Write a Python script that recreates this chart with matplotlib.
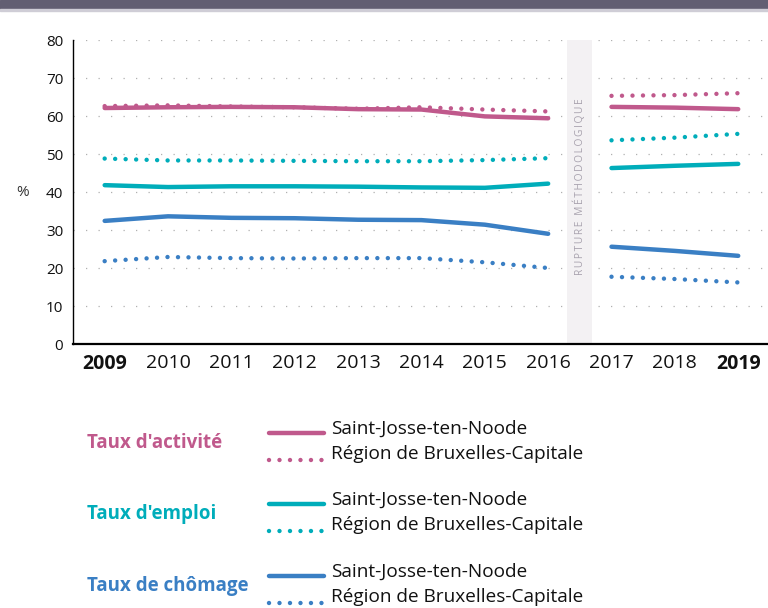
import numpy as np
import matplotlib.pyplot as plt
from matplotlib.patches import Rectangle

plt.rcParams['font.family'] = ['Open Sans', 'DejaVu Sans']

# Data
years = [2009, 2010, 2011, 2012, 2013, 2014, 2015, 2016, 2017, 2018, 2019]
bold_years = [2009, 2019]

act_sj = [62.1, 62.3, 62.4, 62.3, 61.8, 61.7, 59.9, 59.4, 62.4, 62.2, 61.8]
act_rbc = [62.6, 62.8, 62.5, 62.3, 61.9, 62.3, 61.7, 61.2, 65.3, 65.5, 66.0]
emp_sj = [41.8, 41.3, 41.5, 41.5, 41.4, 41.2, 41.1, 42.2, 46.3, 46.9, 47.4]
emp_rbc = [48.8, 48.3, 48.3, 48.2, 48.1, 48.1, 48.4, 48.9, 53.6, 54.3, 55.3]
cho_sj = [32.4, 33.6, 33.2, 33.1, 32.7, 32.6, 31.4, 29.0, 25.6, 24.5, 23.2]
cho_rbc = [21.8, 22.9, 22.6, 22.5, 22.6, 22.6, 21.5, 20.0, 17.7, 17.1, 16.2]

groups = ["Taux d'activité", "Taux d'emploi", "Taux de chômage"]
series_names = ["Saint-Josse-ten-Noode", "Région de Bruxelles-Capitale"]
colors = ['#c0598c', '#00adba', '#3a7fc4']
break_label = "RUPTURE MÉTHODOLOGIQUE"

# Layout
W, H = 768, 608
fig = plt.figure(figsize=(W / 100, H / 100), dpi=100)
ax = fig.add_axes([73 / W, 1 - 344 / H, 1 - 73 / W, (344 - 40) / H])

x = np.arange(len(years))
split = years.index(2017)
dotted = (0, (0.001, 2.36))

series = [(act_sj, act_rbc), (emp_sj, emp_rbc), (cho_sj, cho_rbc)]
for (sj, rbc), c in zip(series, colors):
    for sl in (slice(0, split), slice(split, None)):
        ax.plot(x[sl], np.array(sj)[sl], color=c, lw=3.2,
                solid_capstyle='round', zorder=4)
        ax.plot(x[sl], np.array(rbc)[sl], color=c, lw=3.2, ls=dotted,
                dash_capstyle='round', zorder=4)

# rupture band
ax.axvspan(split - 0.7, split - 0.31, color='#f3f1f3', zorder=2, lw=0)
ax.text(split - 0.505, 41.5, "\u2009".join(break_label), rotation=90,
        ha='center', va='center', fontsize=7.3, color='#a8a2ae', zorder=3)

ax.set_xlim(-0.5, 10.47)
ax.set_ylim(0, 80)
ax.set_yticks(range(0, 81, 10))
for v in range(10, 81, 10):
    ax.axhline(v, color='#b0b0b0', lw=0.9, ls=(0, (1, 9)), zorder=1)

ax.set_xticks(x)
ax.set_xticklabels([str(y) for y in years], fontsize=14)
for lab, y in zip(ax.get_xticklabels(), years):
    if y in bold_years:
        lab.set_fontweight('bold')
ax.tick_params(axis='x', length=0, pad=7, colors='#111111')
ax.tick_params(axis='y', length=0, pad=7, labelsize=11, colors='#111111')
for s in ['top', 'right']:
    ax.spines[s].set_visible(False)
ax.spines['left'].set_linewidth(1.0)
ax.spines['bottom'].set_linewidth(1.6)
ax.text(-0.073, 40, '%', transform=ax.get_yaxis_transform(), ha='center',
        va='center', fontsize=11, color='#333333')

# header strip
fig.patches.append(Rectangle((0, 1 - 9 / H), 1, 9 / H, transform=fig.transFigure,
                             color='#625e72', zorder=0))
fig.patches.append(Rectangle((0, 1 - 10.5 / H), 1, 1.5 / H, transform=fig.transFigure,
                             color='#cfcdd6', zorder=0))

# legend
lg = fig.add_axes([0, 0, 1, 1])
lg.set_xlim(0, W)
lg.set_ylim(H, 0)
lg.axis('off')
lg.patch.set_alpha(0)
tops = [430, 501, 573]
for g, c, ty in zip(groups, colors, tops):
    lg.text(87, ty + 13, g, color=c, fontsize=13.5, fontweight='bold',
            ha='left', va='center')
    lg.plot([269, 324], [ty + 3, ty + 3], color=c, lw=3.2, solid_capstyle='round')
    lg.plot([269, 324], [ty + 30, ty + 30], color=c, lw=3.2, ls=dotted,
            dash_capstyle='round')
    lg.text(331, ty - 1, series_names[0], fontsize=13.7, color='#111111',
            ha='left', va='center')
    lg.text(331, ty + 24, series_names[1], fontsize=13.7, color='#111111',
            ha='left', va='center')

fig.savefig('out.png', dpi=100)
